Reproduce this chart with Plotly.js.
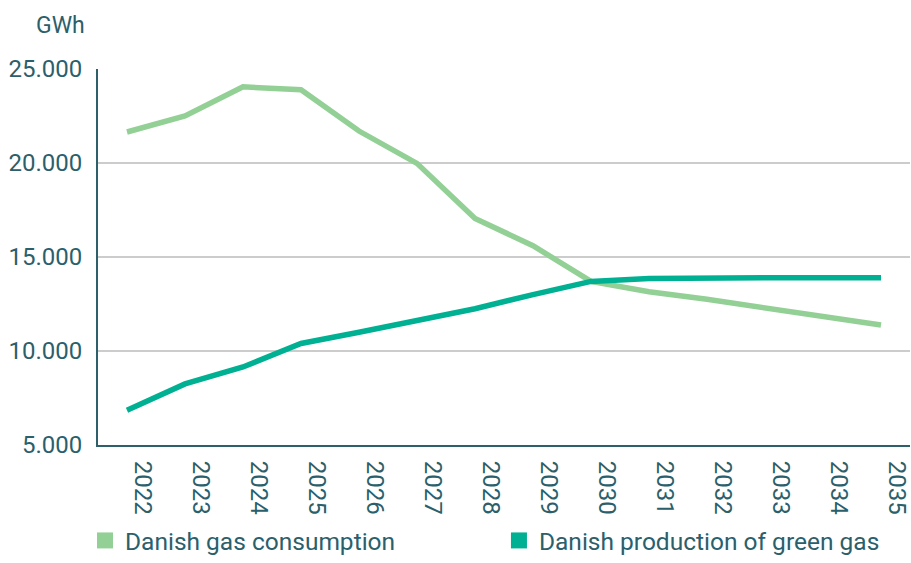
<!DOCTYPE html>
<html>
<head>
<meta charset="utf-8">
<script src="https://cdn.plot.ly/plotly-3.0.1.min.js"></script>
<style>html,body{margin:0;padding:0;background:#fff}#chart{width:911px;height:563px}</style>
</head>
<body>
<div id="chart"></div>
<script>
const years = ['2022','2023','2024','2025','2026','2027','2028','2029','2030','2031','2032','2033','2034','2035'];
const consumption = [21650, 22500, 24050, 23900, 21700, 19980, 17050, 15600, 13700, 13150, 12750, 12270, 11825, 11380];
const production = [6850, 8250, 9150, 10400, 11000, 11600, 12250, 13000, 13700, 13850, 13900, 13900, 13900, 13900];
const seriesNames = ['Danish gas consumption', 'Danish production of green gas'];
const yTicks = [5000, 10000, 15000, 20000, 25000];
const unitLabel = 'GWh';

const cLight = '#93d095';
const cTeal = '#00b092';
const txt = '#2b5f6b';
const fontFam = 'Roboto, "Open Sans", sans-serif';

const traces = [
  {x: years, y: consumption, type: 'scatter', mode: 'lines', line: {color: cLight, width: 5.5}, showlegend: false, hoverinfo: 'x+y'},
  {x: years, y: production, type: 'scatter', mode: 'lines', line: {color: cTeal, width: 5.5}, showlegend: false, hoverinfo: 'x+y'},
  {x: [null], y: [null], type: 'scatter', mode: 'markers', name: seriesNames[0], legend: 'legend', marker: {symbol: 'square', size: 16, color: cLight}},
  {x: [null], y: [null], type: 'scatter', mode: 'markers', name: seriesNames[1], legend: 'legend2', marker: {symbol: 'square', size: 16, color: cTeal}}
];

const legendBase = {
  orientation: 'h', xref: 'container', yref: 'container',
  xanchor: 'left', y: 0, yanchor: 'bottom',
  font: {family: fontFam, size: 24.5, color: txt}, bgcolor: 'rgba(0,0,0,0)'
};

const layout = {
  width: 911, height: 563,
  margin: {l: 98, r: 1, t: 69, b: 118},
  paper_bgcolor: '#fff', plot_bgcolor: '#fff',
  separators: ',.',
  font: {family: fontFam, color: txt, size: 24},
  xaxis: {
    type: 'category', range: [-0.5, 13.5], automargin: false,
    showgrid: false, zeroline: false,
    showline: true, linecolor: '#2f5f6b', linewidth: 2,
    ticks: '', tickangle: 90,
    tickfont: {family: fontFam, size: 24, color: txt},
    ticklabelstandoff: 9, ticklabelshift: 16
  },
  yaxis: {
    range: [5000, 25000], tickvals: yTicks, tickformat: ',d', automargin: false,
    showgrid: true, gridcolor: '#cccccc', gridwidth: 1.3,
    zeroline: false, showline: true, linecolor: '#2f5f6b', linewidth: 2,
    ticks: '', ticklabelstandoff: 9,
    tickfont: {family: fontFam, size: 24, color: txt}
  },
  legend: Object.assign({}, legendBase, {x: 0.0933}),
  legend2: Object.assign({}, legendBase, {x: 0.5477}),
  annotations: [{
    text: unitLabel, xref: 'paper', yref: 'paper', x: -0.0456, y: 1.117,
    xanchor: 'center', yanchor: 'middle', showarrow: false,
    font: {family: fontFam, size: 23, color: txt}
  }]
};

Plotly.newPlot('chart', traces, layout, {displayModeBar: false, staticPlot: true});
</script>
</body>
</html>
